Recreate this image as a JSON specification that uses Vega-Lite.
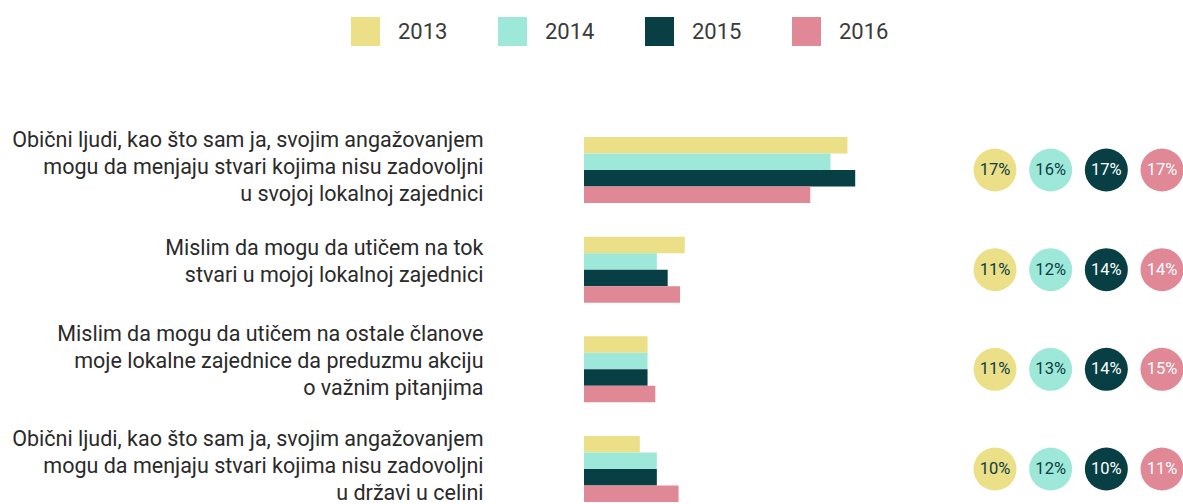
{
  "$schema": "https://vega.github.io/schema/vega-lite/v6.json",
  "width": 599,
  "height": 365,
  "autosize": {"type": "none"},
  "padding": {"left": 584, "top": 137, "right": 0, "bottom": 2},
  "config": {"view": {"stroke": null}, "font": "Roboto"},
  "data": {
    "values": [
      {"q": "Obični ljudi, kao što sam ja, svojim angažovanjem|mogu da menjaju stvari kojima nisu zadovoljni|u svojoj lokalnoj zajednici", "year": "2013", "bar": 17.0, "pct": 0.17},
      {"q": "Obični ljudi, kao što sam ja, svojim angažovanjem|mogu da menjaju stvari kojima nisu zadovoljni|u svojoj lokalnoj zajednici", "year": "2014", "bar": 15.9, "pct": 0.16},
      {"q": "Obični ljudi, kao što sam ja, svojim angažovanjem|mogu da menjaju stvari kojima nisu zadovoljni|u svojoj lokalnoj zajednici", "year": "2015", "bar": 17.5, "pct": 0.17},
      {"q": "Obični ljudi, kao što sam ja, svojim angažovanjem|mogu da menjaju stvari kojima nisu zadovoljni|u svojoj lokalnoj zajednici", "year": "2016", "bar": 14.6, "pct": 0.17},
      {"q": "Mislim da mogu da utičem na tok|stvari u mojoj lokalnoj zajednici", "year": "2013", "bar": 6.5, "pct": 0.11},
      {"q": "Mislim da mogu da utičem na tok|stvari u mojoj lokalnoj zajednici", "year": "2014", "bar": 4.7, "pct": 0.12},
      {"q": "Mislim da mogu da utičem na tok|stvari u mojoj lokalnoj zajednici", "year": "2015", "bar": 5.4, "pct": 0.14},
      {"q": "Mislim da mogu da utičem na tok|stvari u mojoj lokalnoj zajednici", "year": "2016", "bar": 6.2, "pct": 0.14},
      {"q": "Mislim da mogu da utičem na ostale članove|moje lokalne zajednice da preduzmu akciju|o važnim pitanjima", "year": "2013", "bar": 4.1, "pct": 0.11},
      {"q": "Mislim da mogu da utičem na ostale članove|moje lokalne zajednice da preduzmu akciju|o važnim pitanjima", "year": "2014", "bar": 4.1, "pct": 0.13},
      {"q": "Mislim da mogu da utičem na ostale članove|moje lokalne zajednice da preduzmu akciju|o važnim pitanjima", "year": "2015", "bar": 4.1, "pct": 0.14},
      {"q": "Mislim da mogu da utičem na ostale članove|moje lokalne zajednice da preduzmu akciju|o važnim pitanjima", "year": "2016", "bar": 4.6, "pct": 0.15},
      {"q": "Obični ljudi, kao što sam ja, svojim angažovanjem|mogu da menjaju stvari kojima nisu zadovoljni|u državi u celini", "year": "2013", "bar": 3.6, "pct": 0.10},
      {"q": "Obični ljudi, kao što sam ja, svojim angažovanjem|mogu da menjaju stvari kojima nisu zadovoljni|u državi u celini", "year": "2014", "bar": 4.7, "pct": 0.12},
      {"q": "Obični ljudi, kao što sam ja, svojim angažovanjem|mogu da menjaju stvari kojima nisu zadovoljni|u državi u celini", "year": "2015", "bar": 4.7, "pct": 0.10},
      {"q": "Obični ljudi, kao što sam ja, svojim angažovanjem|mogu da menjaju stvari kojima nisu zadovoljni|u državi u celini", "year": "2016", "bar": 6.1, "pct": 0.11}
    ]
  },
  "encoding": {
    "y": {
      "field": "q",
      "type": "nominal",
      "sort": null,
      "scale": {"paddingInner": 0.338, "paddingOuter": 0},
      "axis": {
        "title": null,
        "domain": false,
        "ticks": false,
        "tickSize": 0,
        "labelPadding": 101,
        "labelLimit": 700,
        "labelFontSize": 21.5,
        "labelLineHeight": 27,
        "labelColor": "#2a2a2a",
        "labelOffset": {"condition": [{"test": "indexof(datum.value, 'na tok') >= 0", "value": -21}, {"test": "indexof(datum.value, 'ostale') >= 0", "value": -34}], "value": -29},
        "labelExpr": "split(datum.label, '|')"
      }
    }
  },
  "layer": [
    {
      "mark": {"type": "bar"},
      "encoding": {
        "x": {"field": "bar", "type": "quantitative", "scale": {"domain": [0, 38.65]}, "axis": null},
        "yOffset": {"field": "year", "type": "nominal", "scale": {"paddingInner": 0, "paddingOuter": 0}},
        "color": {
          "field": "year",
          "type": "nominal",
          "scale": {"domain": ["2013", "2014", "2015", "2016"], "range": ["#ebdf87", "#9ee8d9", "#073f45", "#e08896"]},
          "legend": {
            "orient": "none",
            "legendX": -233,
            "legendY": -120,
            "direction": "horizontal",
            "title": null,
            "symbolType": "square",
            "symbolSize": 841,
            "symbolStrokeWidth": 0,
            "symbolOpacity": 1,
            "labelFontSize": 22,
            "labelOffset": 18,
            "columnPadding": 50,
            "labelColor": "#3a3a3a"
          }
        }
      }
    },
    {
      "mark": {"type": "circle", "size": 1849, "opacity": 1},
      "encoding": {
        "x": {"field": "year", "type": "ordinal", "scale": {"type": "point", "range": [411, 578], "padding": 0}, "axis": null},
        "color": {"field": "year", "type": "nominal", "legend": null}
      }
    },
    {
      "mark": {"type": "text", "fontSize": 16.5, "align": "center", "baseline": "middle"},
      "encoding": {
        "x": {"field": "year", "type": "ordinal", "scale": {"type": "point", "range": [411, 578], "padding": 0}, "axis": null},
        "text": {"field": "pct", "type": "quantitative", "format": ".0%"},
        "color": {"condition": {"test": "datum.year == '2015' || datum.year == '2016'", "value": "#ffffff"}, "value": "#0b3d44"}
      }
    }
  ],
  "resolve": {"scale": {"x": "independent"}}
}
